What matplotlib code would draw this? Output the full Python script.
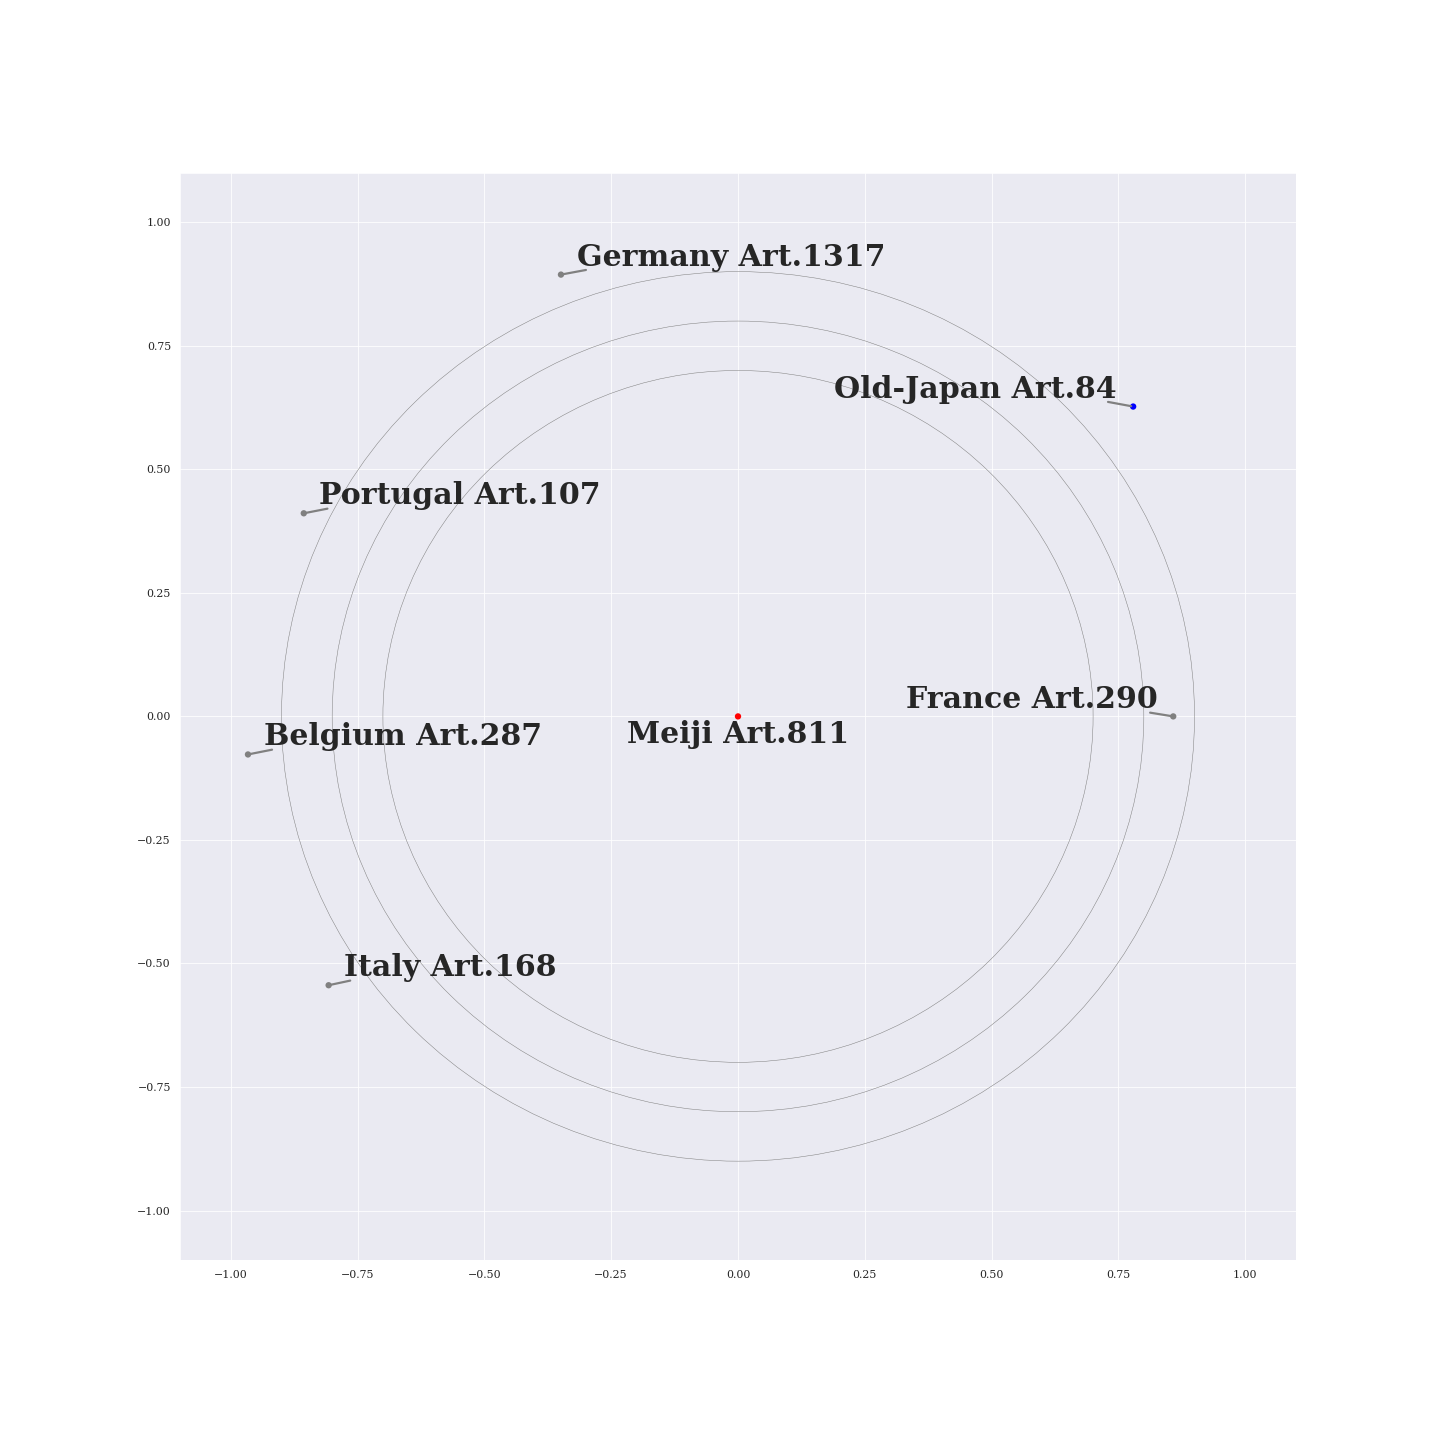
import matplotlib
matplotlib.use("Agg")
import matplotlib.pyplot as plt
import seaborn as sns
from matplotlib.patches import Circle

# ---- data ----
names = ["Meiji", "Old-Japan", "Germany", "Portugal", "Belgium", "Italy", "France"]
counts = [811, 84, 1317, 107, 287, 168, 290]
x_vals = [0.0, 0.779, -0.349, -0.856, -0.966, -0.807, 0.858]
y_vals = [0.0, 0.627, 0.894, 0.411, -0.077, -0.544, 0.0]
point_colors = ["red", "blue", "gray", "gray", "gray", "gray", "gray"]
ring_radii = [0.7, 0.8, 0.9]

# label placement (layout)
label_x = [0.0, 0.189, -0.318, -0.826, -0.935, -0.777, 0.331]
label_y = [-0.0546, 0.645, 0.912, 0.429, -0.0587, -0.526, 0.0162]
label_ha = ["center", "left", "left", "left", "left", "left", "left"]

sns.set_style("darkgrid")
plt.rcParams["font.family"] = ["DejaVu Serif"]
plt.rcParams["xtick.labelsize"] = 11
plt.rcParams["ytick.labelsize"] = 11
plt.rcParams["xtick.major.pad"] = 6.5
plt.rcParams["ytick.major.pad"] = 5.5

fig, ax = plt.subplots(figsize=(20, 20), dpi=72)
fig.subplots_adjust(left=0.125, right=0.9, bottom=0.125, top=0.88)

for r in ring_radii:
    ax.add_patch(Circle((0, 0), r, fill=False, edgecolor="gray", lw=0.5, zorder=2))

ax.scatter(x_vals, y_vals, c=point_colors, s=40, zorder=3, linewidths=0)

for i, name in enumerate(names):
    label = f"{name} Art.{counts[i]}"
    if i == 0:
        ax.text(label_x[i], label_y[i], label, ha=label_ha[i], va="baseline",
                fontsize=30, fontweight="bold", color="#262626", zorder=4)
    else:
        rx = 0.03 if label_x[i] > x_vals[i] else 0.97
        ax.annotate(label, xy=(x_vals[i], y_vals[i]), xytext=(label_x[i], label_y[i]),
                    ha=label_ha[i], va="baseline", fontsize=30, fontweight="bold",
                    color="#262626", zorder=4,
                    arrowprops=dict(arrowstyle="-", color="gray", lw=2.2,
                                    patchA=None, shrinkA=0, shrinkB=2,
                                    relpos=(rx, 0.06)))

ax.set_xlim(-1.1, 1.1)
ax.set_ylim(-1.1, 1.1)
ax.set_xticks([-1.0, -0.75, -0.5, -0.25, 0.0, 0.25, 0.5, 0.75, 1.0])
ax.set_yticks([-1.0, -0.75, -0.5, -0.25, 0.0, 0.25, 0.5, 0.75, 1.0])

fig.savefig("out.png", dpi=72)
